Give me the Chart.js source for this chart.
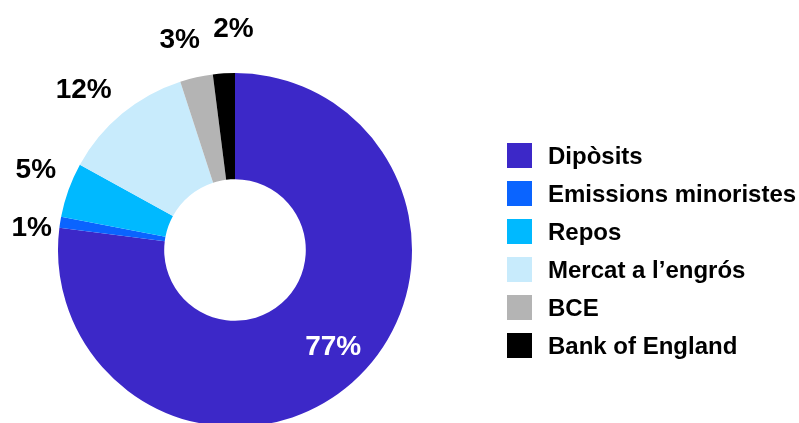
<!DOCTYPE html>
<html>
<head>
<meta charset="utf-8">
<script src="https://cdn.jsdelivr.net/npm/chart.js@4/dist/chart.umd.min.js"></script>
<style>
  html, body { margin: 0; padding: 0; background: #fff; overflow: hidden; }
  #wrap { width: 799px; height: 423px; overflow: hidden; }
  canvas { display: block; }
</style>
</head>
<body>
<div id="wrap"><canvas id="c" width="799" height="430"></canvas></div>
<script>
// Funding sources, share of total (%)
const categories = ['Dipòsits', 'Emissions minoristes', 'Repos', 'Mercat a l\u2019engrós', 'BCE', 'Bank of England'];
const shares = [77, 1, 5, 12, 3, 2];
const sliceColors = ['#3c28c8', '#0a64ff', '#00b9ff', '#c8ebfc', '#b4b4b4', '#000000'];

const FONT = '"Liberation Sans", Arial, Helvetica, sans-serif';

// Percentage labels: inside the large slice in white, outside the small ones in black
const pctLabels = {
  id: 'pctLabels',
  afterDatasetsDraw(chart, args, opts) {
    const ctx = chart.ctx;
    const meta = chart.getDatasetMeta(0);
    ctx.save();
    ctx.font = 'bold 28px ' + FONT;
    ctx.textAlign = 'center';
    ctx.textBaseline = 'alphabetic';
    meta.data.forEach((arc, i) => {
      const p = arc.getProps(['x', 'y', 'startAngle', 'endAngle', 'innerRadius', 'outerRadius'], true);
      const mid = (p.startAngle + p.endAngle) / 2;
      const inside = i === 0;
      const r = inside ? (p.innerRadius + p.outerRadius) / 2 + 14 : p.outerRadius + 40;
      const nudge = opts.nudge[i] || [0, 0];
      const x = p.x + Math.cos(mid) * r + nudge[0];
      const y = p.y + Math.sin(mid) * r + nudge[1];
      ctx.fillStyle = inside ? '#ffffff' : '#000000';
      ctx.fillText(shares[i] + '%', x, y + 10);
    });
    ctx.restore();
  }
};

// Legend drawn at the right: square swatch + bold label per slice
const sideLegend = {
  id: 'sideLegend',
  afterDraw(chart, args, opts) {
    const ctx = chart.ctx;
    ctx.save();
    ctx.font = 'bold 24px ' + FONT;
    ctx.textAlign = 'left';
    ctx.textBaseline = 'alphabetic';
    categories.forEach((name, i) => {
      const top = opts.top + i * opts.rowGap;
      ctx.fillStyle = sliceColors[i];
      ctx.fillRect(opts.left, top, opts.box, opts.box);
      ctx.fillStyle = '#000000';
      ctx.fillText(name, opts.left + opts.box + 16, top + opts.box / 2 + 8.5);
    });
    ctx.restore();
  }
};

new Chart(document.getElementById('c'), {
  type: 'doughnut',
  data: {
    labels: categories,
    datasets: [{
      data: shares,
      backgroundColor: sliceColors,
      borderWidth: 0,
      hoverOffset: 0
    }]
  },
  options: {
    responsive: false,
    animation: false,
    cutout: '40%',
    rotation: 0,
    layout: { padding: { left: 58, right: 387, top: 73, bottom: 3 } },
    events: [],
    plugins: {
      legend: { display: false },
      tooltip: { enabled: false },
      pctLabels: { nudge: [[7, -8], [11, 10], [5, -8], [-13, 5], [-8, 0], [12, -6]] },
      sideLegend: { left: 507, top: 143, box: 25, rowGap: 38 }
    }
  },
  plugins: [pctLabels, sideLegend]
});
</script>
</body>
</html>
